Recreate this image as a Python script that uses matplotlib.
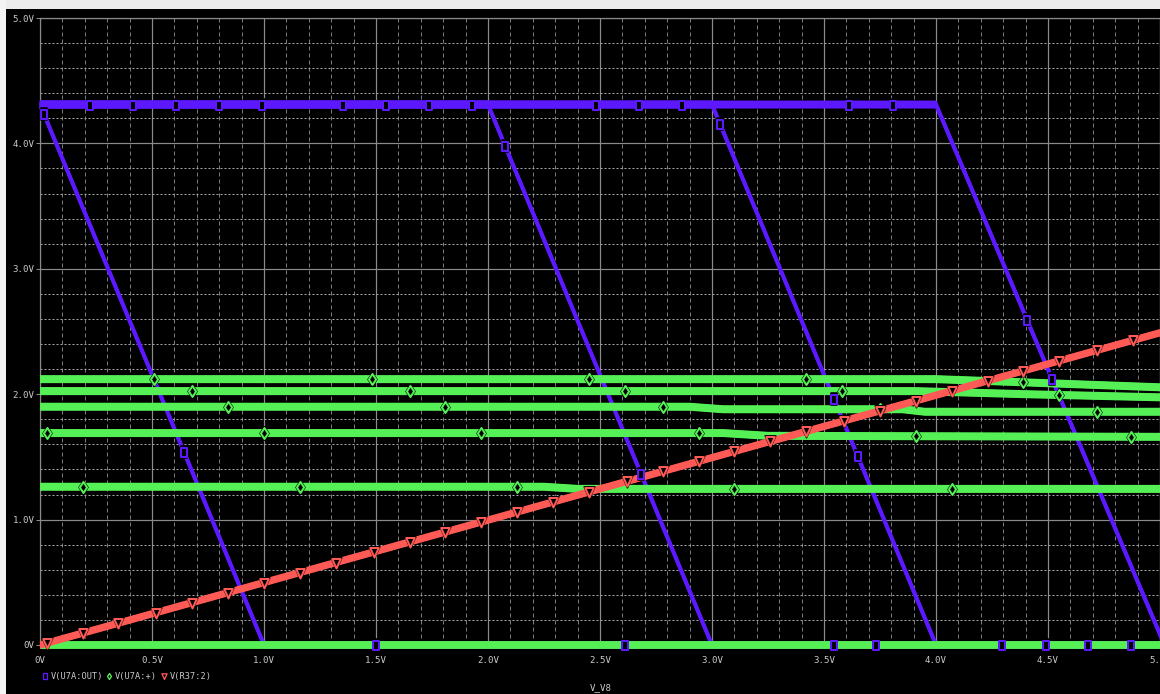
import numpy as np
import matplotlib
matplotlib.use("Agg")
import matplotlib.pyplot as plt
from matplotlib.path import Path
from matplotlib.patches import Rectangle
from matplotlib.lines import Line2D
from matplotlib.ticker import FixedLocator, MultipleLocator
import matplotlib.patheffects as pe

# ---------------- sweep axis / ticks ----------------
x_ticks = [0.0, 0.5, 1.0, 1.5, 2.0, 2.5, 3.0, 3.5, 4.0, 4.5, 5.0]
x_tick_labels = ["0V", "0.5V", "1.0V", "1.5V", "2.0V", "2.5V",
                 "3.0V", "3.5V", "4.0V", "4.5V", "5.0V"]
y_ticks = [0.0, 1.0, 2.0, 3.0, 4.0, 5.0]
y_tick_labels = ["0V", "1.0V", "2.0V", "3.0V", "4.0V", "5.0V"]
x_label = "V_V8"

# ---------------- V(U7A:OUT), one run per parameter step ----------------
out_run1_x = [0.0, 1.0, 5.0]
out_run1_y = [4.31, 0.0, 0.0]
out_run2_x = [0.0, 2.0, 3.0, 5.0]
out_run2_y = [4.31, 4.31, 0.0, 0.0]
out_run3_x = [0.0, 3.0, 4.0, 5.0]
out_run3_y = [4.31, 4.31, 0.0, 0.0]
out_run4_x = [0.0, 4.0, 5.02]
out_run4_y = [4.31, 4.31, 0.0]

out_run1_marks = [0.018, 0.643, 1.50, 2.61, 3.545, 3.73, 4.295, 4.49, 4.68, 4.87]
out_run2_marks = [2.076, 2.683]
out_run3_marks = [3.036, 3.545, 3.65]
out_run4_marks = [0.223, 0.415, 0.607, 0.799, 0.991, 1.353, 1.545, 1.737,
                  1.929, 2.482, 2.674, 2.866, 3.612, 3.808, 4.406, 4.518]

# ---------------- V(U7A:+) ----------------
plus_run1_x = [0.0, 4.0, 5.0]
plus_run1_y = [2.12, 2.12, 2.055]
plus_run2_x = [0.0, 3.9, 4.4, 5.0]
plus_run2_y = [2.025, 2.025, 2.0, 1.975]
plus_run3_x = [0.0, 2.9, 3.05, 3.85, 3.95, 5.0]
plus_run3_y = [1.90, 1.90, 1.88, 1.88, 1.86, 1.86]
plus_run4_x = [0.0, 3.05, 3.25, 5.0]
plus_run4_y = [1.69, 1.69, 1.668, 1.66]
plus_run5_x = [0.0, 2.25, 2.4, 5.0]
plus_run5_y = [1.262, 1.262, 1.245, 1.245]
plus_run6_x = [0.0, 5.0]
plus_run6_y = [0.0, 0.0]

plus_run1_marks = [0.51, 1.48, 2.45, 3.42, 4.39]
plus_run2_marks = [0.68, 1.65, 2.61, 3.58, 4.55]
plus_run3_marks = [0.84, 1.81, 2.78, 3.75, 4.72]
plus_run4_marks = [0.03, 1.00, 1.97, 2.94, 3.91, 4.87]
plus_run5_marks = [0.19, 1.16, 2.13, 3.10, 4.07]

# ---------------- V(R37:2) ----------------
r37_x = [0.0, 5.0]
r37_y = [0.0, 2.49]
r37_marks = [0.03, 0.19, 0.35, 0.52, 0.68, 0.84, 1.00, 1.16, 1.32, 1.49, 1.65,
             1.81, 1.97, 2.13, 2.29, 2.45, 2.62, 2.78, 2.94, 3.10, 3.26, 3.42,
             3.59, 3.75, 3.91, 4.07, 4.23, 4.39, 4.55, 4.72, 4.88]

# ---------------- styling ----------------
BLUE = "#5c18ff"
GREEN = "#55f055"
RED = "#ff5a55"
GRID_MAJOR = "#8a8a8a"
GRID_MINOR_V = "#7a7a7a"
GRID_MINOR_H = "#a8a8a8"
TEXT = "#c8c8c8"
FONT = "DejaVu Sans Mono"
FS_TICK = 6.6
FS_LEG = 6.2
PX = 0.72  # points per pixel at 100 dpi

W, H = 1160, 694
fig = plt.figure(figsize=(W / 100, H / 100), dpi=100, facecolor="black")
left_px, right_px, top_px, bottom_px = 40, 1160, 18, 645
ax = fig.add_axes([left_px / W, 1 - bottom_px / H,
                   (right_px - left_px) / W, (bottom_px - top_px) / H])
ax.set_facecolor("black")
ax.set_xlim(0, 5)
ax.set_ylim(0, 5)

# grid
ax.set_axisbelow(True)
ax.xaxis.set_major_locator(FixedLocator(x_ticks))
ax.yaxis.set_major_locator(FixedLocator(y_ticks))
ax.xaxis.set_minor_locator(MultipleLocator(0.1))
ax.yaxis.set_minor_locator(MultipleLocator(0.2))
ax.xaxis.grid(True, which="major", color=GRID_MAJOR, lw=1.2 * PX, ls="-")
ax.yaxis.grid(True, which="major", color=GRID_MAJOR, lw=1.2 * PX, ls="-")
ax.xaxis.grid(True, which="minor", color=GRID_MINOR_V, lw=1.0 * PX, ls=(0, (4, 3)))
ax.yaxis.grid(True, which="minor", color=GRID_MINOR_H, lw=1.0 * PX, ls=(0, (2, 2)))

ax.set_xticklabels(x_tick_labels, fontfamily=FONT, fontsize=FS_TICK, color=TEXT)
ax.set_yticklabels(y_tick_labels, fontfamily=FONT, fontsize=FS_TICK, color=TEXT)
ax.tick_params(axis="x", which="major", length=0, pad=8)
ax.tick_params(axis="y", which="major", length=3, width=1 * PX, color=GRID_MAJOR,
               direction="out", pad=1)
ax.tick_params(which="minor", length=0)
for side, sp in ax.spines.items():
    sp.set_color(GRID_MAJOR)
    sp.set_linewidth(1.2 * PX)


def pen(spread_px, width_px):
    """Thick trace pen: a stack of thin strokes offset vertically."""
    effects = []
    steps = np.arange(-spread_px / 2, spread_px / 2 + 0.01, 0.5)
    for k in steps:
        effects.append(pe.Stroke(offset=(0, k * PX), linewidth=width_px * PX))
    return effects


def marker_path(kind):
    if kind == "rect":
        v = [(-0.6, -1), (0.6, -1), (0.6, 1), (-0.6, 1), (-0.6, -1)]
    elif kind == "diamond":
        v = [(0, 1), (0.65, 0), (0, -1), (-0.65, 0), (0, 1)]
    else:  # downward triangle
        v = [(-0.85, 0.9), (0.85, 0.9), (0, -1), (-0.85, 0.9)]
    codes = [Path.MOVETO] + [Path.LINETO] * (len(v) - 2) + [Path.CLOSEPOLY]
    return Path(v, codes)


RECT = marker_path("rect")
DIAM = marker_path("diamond")
TRI = marker_path("tri")


def trace(xs, ys, color, spread, width, z):
    ln, = ax.plot(xs, ys, color=color, lw=width * PX, zorder=z,
                  solid_capstyle="butt", clip_on=False)
    ln.set_path_effects(pen(spread, width))


def marks(xs_run, ys_run, at, color, shape, size_px, z):
    at = np.asarray(at, dtype=float)
    yv = np.interp(at, xs_run, ys_run)
    ax.plot(at, yv, ls="none", marker=shape, ms=(size_px + 2.5) * PX,
            mfc="black", mec="black", mew=1.6 * PX, zorder=z, clip_on=False)
    ax.plot(at, yv, ls="none", marker=shape, ms=size_px * PX,
            mfc="black", mec=color, mew=2.0 * PX, zorder=z + 0.1, clip_on=False)


# V(U7A:OUT)
out_runs = [(out_run1_x, out_run1_y, out_run1_marks),
            (out_run2_x, out_run2_y, out_run2_marks),
            (out_run3_x, out_run3_y, out_run3_marks),
            (out_run4_x, out_run4_y, out_run4_marks)]
for xs, ys, _ in out_runs:
    trace(xs, ys, BLUE, 6.5, 1.5, 3)

# V(U7A:+)
plus_runs = [(plus_run1_x, plus_run1_y, plus_run1_marks),
             (plus_run2_x, plus_run2_y, plus_run2_marks),
             (plus_run3_x, plus_run3_y, plus_run3_marks),
             (plus_run4_x, plus_run4_y, plus_run4_marks),
             (plus_run5_x, plus_run5_y, plus_run5_marks),
             (plus_run6_x, plus_run6_y, [])]
for xs, ys, _ in plus_runs:
    trace(xs, ys, GREEN, 6.5, 1.5, 4)

# V(R37:2)
trace(r37_x, r37_y, RED, 6.0, 1.5, 5)

# symbols on top of the traces
for xs, ys, m in plus_runs:
    if m:
        marks(xs, ys, m, GREEN, DIAM, 11, 6)
marks(r37_x, r37_y, r37_marks, RED, TRI, 10, 6.5)
for xs, ys, m in out_runs:
    marks(xs, ys, m, BLUE, RECT, 9, 7)

# legend row
legend_y = 1 - 676 / H
legend_items = [(45, 51, "V(U7A:OUT)", BLUE, RECT),
                (109, 115, "V(U7A:+)", GREEN, DIAM),
                (164, 170, "V(R37:2)", RED, TRI)]
for mx, tx, label, color, shape in legend_items:
    fig.add_artist(Line2D([mx / W], [legend_y], ls="none", marker=shape,
                          ms=6 * PX, mfc="black", mec=color, mew=1.3 * PX,
                          transform=fig.transFigure))
    fig.text(tx / W, legend_y, label, fontfamily=FONT, fontsize=FS_LEG,
             color=TEXT, ha="left", va="center")

fig.text(601 / W, 1 - 688 / H, x_label, fontfamily=FONT, fontsize=FS_TICK,
         color=TEXT, ha="center", va="center")

# window frame strips
fig.add_artist(Rectangle((0, 1 - 9 / H), 1, 9 / H, transform=fig.transFigure,
                         facecolor="#ececec", edgecolor="none", zorder=10))
fig.add_artist(Rectangle((0, 0), 6 / W, 1, transform=fig.transFigure,
                         facecolor="#f4f4f4", edgecolor="none", zorder=10))

fig.savefig("out.png", dpi=100, facecolor="black")
